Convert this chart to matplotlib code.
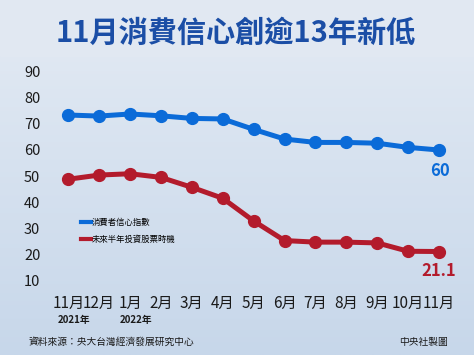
import numpy as np
import matplotlib
matplotlib.use("Agg")
from matplotlib import pyplot as plt

plt.rcParams['font.family'] = ['Noto Sans CJK TC', 'DejaVu Sans']

months = ["11月", "12月", "1月", "2月", "3月", "4月", "5月", "6月",
          "7月", "8月", "9月", "10月", "11月"]
years = {0: "2021年", 2: "2022年"}
yticks = [10, 20, 30, 40, 50, 60, 70, 80, 90]

cci = [73.4, 73.0, 73.8, 73.1, 72.1, 71.9, 67.9, 64.2, 62.9, 62.9, 62.6, 61.0, 60.0]
stock = [48.8, 50.4, 50.9, 49.5, 45.7, 41.5, 32.8, 25.3, 24.7, 24.7, 24.4, 21.2, 21.1]

blue = "#0b6bd8"
red = "#b31b2c"

fig = plt.figure(figsize=(4.74, 3.55), dpi=100)

# background gradient
bg = fig.add_axes([0, 0, 1, 1])
grad = np.linspace(0, 1, 256).reshape(-1, 1)
cmap = matplotlib.colors.LinearSegmentedColormap.from_list("bg", ["#e4ebf4", "#c7d7ea"])
bg.imshow(grad, aspect="auto", cmap=cmap, extent=[0, 1, 0, 1], origin="upper")
bg.axhspan(1 - 56 / 355, 1, color="#e1e8f2")
bg.set_xlim(0, 1)
bg.set_ylim(0, 1)
bg.axis("off")

fig.text(0.497, 1 - 33 / 355, "11月消費信心創逾13年新低", ha="center", va="center",
         fontsize=21, fontweight="bold", color="#1b4ea6")

ax = fig.add_axes([0.1115, 0.1731, 0.8472, 0.6617])
ax.patch.set_alpha(0)
x = np.arange(len(months))
l1, = ax.plot(x, cci, color=blue, lw=3.6, marker="o", ms=8.5, label="消費者信心指數")
l2, = ax.plot(x, stock, color=red, lw=3.6, marker="o", ms=8.5, label="未來半年投資股票時機")

ax.set_xlim(-0.5, 12.5)
ax.set_ylim(5, 95)
ax.set_yticks(yticks)
ax.set_xticks(x)
ax.set_xticklabels(months)
ax.tick_params(length=0, labelsize=10.5, colors="#1a1a1a")
ax.tick_params(axis="x", labelsize=11)
ax.tick_params(axis="y", pad=9)
ax.tick_params(axis="x", pad=1)
for s in ax.spines.values():
    s.set_visible(False)

for i, t in years.items():
    ax.annotate(t, xy=(x[i], 0), xycoords=("data", "axes fraction"),
                xytext=(4, -19), textcoords="offset points", ha="center", va="center",
                fontsize=7, fontweight="bold", color="#1a1a1a")

ax.annotate("60", xy=(x[-1], cci[-1]), xytext=(1, -15), textcoords="offset points",
            ha="center", va="center", fontsize=12, fontweight="bold", color=blue)
ax.annotate("21.1", xy=(x[-1], stock[-1]), xytext=(0, -14), textcoords="offset points",
            ha="center", va="center", fontsize=12, fontweight="bold", color=red)

leg = ax.legend(handles=[l1, l2], loc="center left", bbox_to_anchor=(0.07, 0.267),
                frameon=False, fontsize=6, handlelength=1.2, handletextpad=0.1,
                labelspacing=0.9, borderaxespad=0, borderpad=0)
for h in leg.legend_handles:
    h.set_marker("")
    h.set_linewidth(3)

fig.text(29 / 474, 1 - 342 / 355, "資料來源：央大台灣經濟發展研究中心", ha="left", va="center",
         fontsize=7, color="#1a1a1a")
fig.text(448 / 474, 1 - 342 / 355, "中央社製圖", ha="right", va="center",
         fontsize=7, color="#1a1a1a")

fig.savefig("out.png", dpi=100)
